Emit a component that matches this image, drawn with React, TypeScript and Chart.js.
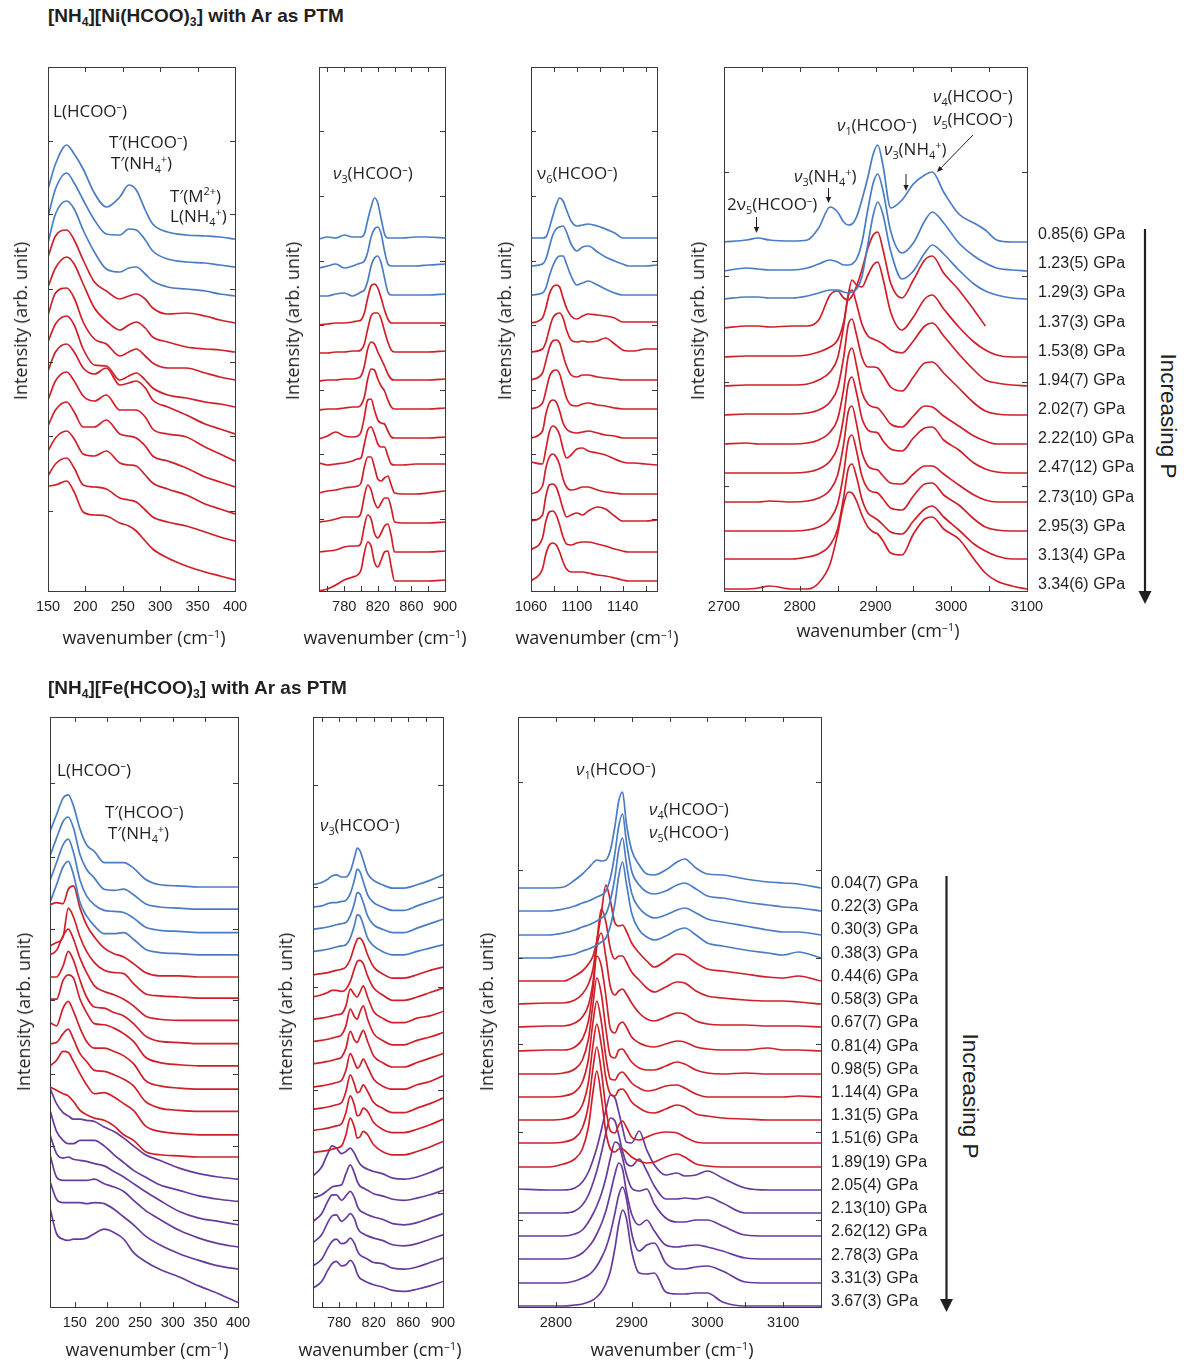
import React, { useEffect, useRef } from "react";
import { Chart, registerables } from "chart.js";

Chart.register(...registerables);

// ---------------- pressure labels & phases ----------------
const niPressures = ["0.85(6) GPa", "1.23(5) GPa", "1.29(3) GPa", "1.37(3) GPa", "1.53(8) GPa", "1.94(7) GPa", "2.02(7) GPa", "2.22(10) GPa", "2.47(12) GPa", "2.73(10) GPa", "2.95(3) GPa", "3.13(4) GPa", "3.34(6) GPa"];
const fePressures = ["0.04(7) GPa", "0.22(3) GPa", "0.30(3) GPa", "0.38(3) GPa", "0.44(6) GPa", "0.58(3) GPa", "0.67(7) GPa", "0.81(4) GPa", "0.98(5) GPa", "1.14(4) GPa", "1.31(5) GPa", "1.51(6) GPa", "1.89(19) GPa", "2.05(4) GPa", "2.13(10) GPa", "2.62(12) GPa", "2.78(3) GPa", "3.31(3) GPa", "3.67(3) GPa"];
const niPhase = [0, 0, 0, 1, 1, 1, 1, 1, 1, 1, 1, 1, 1];
const fePhase = [0, 0, 0, 0, 1, 1, 1, 1, 1, 1, 1, 1, 1, 2, 2, 2, 2, 2, 2];

// ---------------- [NH4][Ni(HCOO)3] : lattice region ----------------
const niLatX = [150, 160, 175, 185, 197, 212, 228, 246, 258, 268, 280, 290, 310, 335, 360, 380, 400];
const niLatBase = [352, 324, 295, 268, 239, 211, 184, 157, 130, 104, 77, 50, 11];
const niLatY = [
  [50, 75, 94, 85, 70, 46, 32, 42, 54, 49, 29, 15, 7, 4, 3, 2, 0],
  [50, 78, 94, 84, 67, 47, 33, 32, 38, 37, 27, 16, 8, 5, 4, 2, 0],
  [53, 82, 95, 87, 66, 44, 27, 24, 28, 29, 22, 15, 9, 7, 5, 2, 0],
  [66, 87, 93, 83, 63, 41, 32, 24, 27, 29, 24, 15, 9, 10, 7, 3, 0],
  [65, 84, 95, 88, 68, 44, 31, 22, 27, 30, 24, 15, 10, 5, 3, 2, 0],
  [65, 87, 92, 82, 58, 41, 36, 24, 28, 31, 24, 17, 12, 12, 7, 3, 0],
  [65, 83, 91, 82, 58, 42, 41, 27, 31, 34, 27, 19, 12, 9, 5, 3, 0],
  [63, 82, 90, 82, 66, 60, 66, 49, 51, 53, 46, 34, 27, 19, 10, 5, 0],
  [61, 80, 89, 80, 65, 60, 66, 51, 51, 51, 44, 32, 27, 24, 14, 7, 0],
  [61, 77, 85, 75, 60, 60, 67, 53, 51, 49, 41, 31, 26, 19, 10, 5, 0],
  [63, 76, 83, 75, 60, 58, 63, 51, 49, 48, 39, 31, 25, 19, 10, 5, 0],
  [65, 77, 83, 73, 56, 54, 52, 43, 41, 39, 31, 24, 19, 15, 9, 4, 0],
  [94, 95, 99, 88, 68, 65, 64, 57, 54, 49, 39, 31, 22, 14, 8, 4, 0],
];

// ---------------- Ni : nu3 region ----------------
const niV3X = [750, 760, 770, 780, 790, 796, 800, 804, 808, 812, 816, 820, 824, 828, 832, 836, 840, 850, 865, 880, 900];
const niV3Base = [353, 325, 296, 268, 239, 211, 182, 153, 126, 97, 68, 39, 10];
const niV3Y = [
  [-1, 1, 0, 3, 1, 1, 1, 4, 18, 31, 40, 35, 19, 4, 0, 0, 0, 0, 1, 1, 0],
  [-2, 0, 2, -2, 0, 2, 3, 5, 14, 29, 37, 39, 32, 15, 2, 0, 0, 0, 0, 1, 2],
  [-1, -1, 1, 2, -1, 1, 3, 5, 14, 29, 37, 39, 32, 17, 3, 0, 0, 0, 0, 0, 1],
  [-2, -1, 0, 0, 1, 2, 3, 10, 25, 37, 39, 35, 25, 13, 4, 0, 0, 0, 0, 0, 0],
  [-1, -1, 0, 0, 1, 1, 2, 8, 23, 36, 39, 39, 33, 21, 10, 2, 0, 0, 0, 0, 1],
  [-1, 0, 0, 1, 1, 2, 4, 14, 31, 38, 36, 28, 21, 14, 6, 1, 0, 0, 0, 0, 1],
  [-1, 0, 0, 1, 2, 2, 4, 12, 30, 40, 39, 30, 23, 18, 9, 2, 0, 0, 0, 0, 1],
  [-1, 2, 6, 2, 1, 2, 6, 21, 38, 39, 28, 18, 15, 14, 7, 1, 0, 0, 0, 0, 1],
  [2, 0, 1, 2, 4, 6, 7, 21, 35, 38, 31, 21, 18, 18, 9, 1, 0, 0, 1, 1, 1],
  [1, 3, 4, 6, 7, 8, 11, 27, 37, 37, 27, 15, 13, 16, 18, 9, 1, 0, 0, 1, 3],
  [1, 2, 4, 6, 6, 6, 10, 27, 38, 33, 21, 15, 20, 25, 25, 15, 1, 0, 0, 0, 1],
  [0, 1, 2, 5, 6, 6, 9, 26, 37, 33, 19, 14, 19, 26, 28, 16, 0, 0, 0, 0, 1],
  [-10, -8, -4, 1, 4, 6, 11, 28, 39, 35, 19, 14, 21, 29, 30, 14, 0, 0, 0, 0, 1],
];

// ---------------- Ni : nu6 region ----------------
const niV6X = [1060, 1070, 1073, 1076, 1079, 1082, 1085, 1088, 1091, 1095, 1100, 1105, 1110, 1118, 1125, 1133, 1140, 1145, 1150, 1160, 1170];
const niV6Base = [353, 325, 296, 268, 239, 211, 182, 153, 126, 97, 68, 39, 10];
const niV6Y = [
  [0, 0, 1, 10, 22, 33, 40, 37, 28, 17, 12, 13, 14, 12, 9, 5, 0, 0, 0, 0, 0],
  [0, 2, 7, 19, 31, 37, 39, 40, 34, 22, 15, 19, 20, 14, 9, 5, 2, 0, 0, 0, 1],
  [0, 2, 7, 19, 29, 36, 39, 39, 31, 19, 10, 12, 14, 10, 6, 2, 0, 0, 0, 0, 0],
  [0, 5, 15, 29, 36, 38, 36, 25, 15, 7, 4, 7, 9, 8, 7, 5, 1, 1, 1, 1, 1],
  [0, 3, 10, 23, 34, 38, 39, 34, 22, 12, 10, 11, 10, 11, 14, 8, 2, 1, 1, 3, 3],
  [0, 7, 19, 32, 39, 40, 37, 25, 14, 5, 3, 5, 5, 3, 2, 1, 0, 0, 0, 0, 0],
  [0, 6, 18, 32, 38, 39, 35, 23, 11, 4, 3, 5, 6, 4, 3, 1, 0, 0, 0, 0, 0],
  [0, 7, 24, 35, 38, 36, 27, 15, 9, 6, 5, 6, 7, 5, 3, 2, 0, 0, 0, 0, 0],
  [3, 1, 16, 33, 39, 37, 30, 16, 7, 10, 16, 17, 14, 12, 10, 6, 3, 2, 2, 1, 0],
  [0, 8, 26, 37, 40, 37, 29, 15, 7, 4, 5, 7, 7, 4, 2, 1, 0, 0, 0, 0, 0],
  [2, 8, 27, 38, 39, 36, 26, 14, 6, 8, 10, 8, 12, 16, 14, 7, 2, 2, 2, 2, 3],
  [2, 14, 31, 40, 41, 37, 27, 15, 8, 7, 9, 10, 10, 8, 6, 3, 1, 0, 0, 0, 0],
  [0, 12, 27, 36, 38, 36, 29, 19, 12, 9, 9, 9, 8, 6, 5, 3, 1, 0, 0, 0, 0],
];

// ---------------- Ni : C-H / N-H stretching region ----------------
const niChX = [2700, 2730, 2745, 2760, 2790, 2810, 2825, 2840, 2850, 2858, 2864, 2869, 2875, 2882, 2890, 2897, 2903, 2910, 2920, 2935, 2950, 2965, 2975, 2990, 3010, 3030, 3045, 3060, 3080, 3100];
const niChBase = [349, 320, 292, 263, 234, 205, 176, 147, 118, 89, 60, 32, 2];
const niChY: (number | null)[][] = [
  [0, 2, 4, 2, 1, 2, 14, 35, 30, 20, 17, 18, 25, 42, 65, 88, 97, 76, 34, 42, 58, 67, 70, 50, 28, 19, 12, 2, 0, 0],
  [0, 3, 2, 1, 1, 3, 7, 11, 9, 6, 6, 7, 12, 28, 62, 88, 97, 80, 40, 18, 28, 50, 59, 48, 28, 15, 8, 3, 1, 0],
  [0, 2, 2, 1, 1, 3, 6, 9, 9, 7, 6, 7, 10, 22, 55, 84, 97, 84, 48, 20, 28, 46, 54, 45, 29, 15, 8, 4, 1, 0],
  [0, 2, 2, 1, 2, 2, 8, 33, 37, 30, 28, 32, 42, 58, 80, 93, 96, 78, 45, 30, 48, 68, 72, 55, 38, 18, 2, null, null, null],
  [0, 1, 1, 1, 1, 2, 5, 10, 17, 35, 62, 77, 72, 70, 82, 92, 95, 78, 45, 27, 40, 58, 62, 48, 30, 15, 7, 2, 0, 0],
  [0, 1, 1, 1, 1, 2, 6, 14, 28, 60, 90, 96, 82, 62, 50, 47, 45, 42, 36, 33, 45, 60, 63, 50, 32, 16, 6, 3, 1, 0],
  [0, 1, 1, 1, 1, 2, 5, 13, 27, 58, 90, 96, 80, 58, 48, 48, 47, 40, 28, 24, 38, 52, 53, 42, 27, 12, 4, 1, 0, 0],
  [0, 1, 0, 0, 0, 1, 4, 12, 25, 55, 88, 96, 78, 52, 40, 37, 36, 30, 20, 17, 28, 38, 37, 28, 18, 8, 3, 0, 0, 0],
  [0, 0, 0, 0, 0, 1, 4, 12, 26, 56, 89, 96, 80, 55, 43, 41, 40, 32, 24, 22, 35, 45, 46, 33, 23, 10, 4, 1, 0, 0],
  [0, 0, 0, 1, 0, 1, 4, 12, 27, 58, 90, 96, 78, 50, 36, 33, 32, 26, 19, 18, 28, 36, 36, 28, 17, 7, 2, 0, 0, 0],
  [0, 0, 0, 0, 0, 1, 4, 12, 27, 58, 90, 96, 80, 55, 42, 39, 38, 32, 23, 21, 35, 47, 48, 36, 26, 12, 4, 1, 0, 0],
  [0, 0, 0, 0, 0, 2, 5, 14, 30, 62, 90, 95, 82, 60, 46, 42, 39, 34, 27, 25, 38, 50, 53, 42, 29, 15, 8, 3, 0, 0],
  [0, 0, 1, 3, 0, 0, 6, 25, 55, 85, 97, 96, 88, 74, 62, 57, 55, 48, 36, 34, 55, 70, 72, 60, 50, 30, 16, 8, 3, 0],
];

// ---------------- [NH4][Fe(HCOO)3] : lattice region ----------------
const feLatX = [112, 122, 132, 140, 148, 158, 168, 180, 195, 210, 225, 240, 258, 280, 310, 340, 370, 400];
const feLatBase = [378, 358, 337, 317, 297, 278, 258, 237, 217, 196, 176, 155, 135, 115, 95, 74, 54, 34, 4];
const feLatY = [
  [50, 65, 80, 83, 73, 52, 38, 32, 22, 22, 22, 17, 7, 2, 1, 0, 0, 0],
  [48, 64, 79, 83, 73, 49, 36, 28, 18, 17, 18, 13, 5, 2, 1, 0, 0, 0],
  [47, 63, 79, 84, 72, 47, 33, 25, 20, 19, 18, 13, 5, 2, 1, 0, 0, 0],
  [47, 63, 79, 84, 72, 47, 35, 26, 19, 19, 20, 14, 5, 2, 1, 0, 0, 0],
  [65, 67, 66, 79, 82, 62, 47, 36, 26, 21, 18, 12, 4, 1, 1, 0, 0, 0],
  [47, 50, 55, 81, 73, 55, 42, 32, 25, 23, 22, 13, 4, 2, 1, 0, 0, 0],
  [59, 63, 76, 82, 73, 56, 43, 31, 26, 23, 19, 13, 4, 1, 0, 0, 0, 0],
  [60, 60, 70, 83, 75, 57, 42, 33, 32, 28, 25, 18, 7, 2, 1, 0, 0, 0],
  [60, 60, 77, 82, 79, 60, 48, 38, 37, 34, 29, 22, 8, 3, 1, 0, 0, 0],
  [60, 57, 73, 79, 70, 55, 43, 37, 37, 34, 30, 23, 8, 3, 1, 0, 0, 0],
  [61, 62, 70, 74, 65, 52, 45, 37, 36, 33, 29, 23, 9, 3, 1, 0, 0, 0],
  [62, 67, 75, 74, 66, 55, 45, 37, 38, 34, 28, 22, 8, 3, 1, 0, 0, 0],
  [63, 60, 57, 55, 50, 42, 38, 35, 33, 28, 20, 15, 5, 2, 1, 0, 0, 0],
  [82, 68, 60, 57, 54, 54, 53, 52, 47, 43, 37, 30, 22, 17, 10, 5, 2, 0],
  [82, 63, 55, 52, 52, 55, 55, 55, 50, 42, 35, 28, 22, 15, 10, 5, 2, 0],
  [81, 64, 60, 61, 59, 58, 57, 55, 53, 48, 43, 37, 30, 22, 12, 6, 3, 0],
  [83, 63, 60, 60, 60, 60, 60, 61, 57, 54, 50, 42, 33, 25, 15, 8, 3, 0],
  [79, 63, 60, 60, 60, 60, 59, 60, 59, 54, 47, 40, 30, 22, 14, 8, 3, 0],
  [85, 62, 57, 56, 57, 57, 58, 62, 66, 63, 57, 45, 37, 30, 23, 15, 8, 0],
];

// ---------------- Fe : nu3 region ----------------
const feV3X = [750, 760, 767, 772, 777, 783, 788, 793, 798, 801, 804, 808, 813, 820, 830, 842, 855, 870, 885, 900];
const feV3Base = [380, 360, 340, 320, 299, 279, 259, 239, 219, 198, 178, 159, 139, 118, 98, 77, 58, 37, 17];
const feV3Y = [
  [0, 2, 5, 8, 9, 7, 7, 12, 25, 33, 31, 22, 10, 4, 0, -3, -3, 0, 4, 9],
  [0, 1, 3, 4, 4, 5, 6, 12, 25, 34, 32, 23, 11, 4, 0, -3, -3, 1, 5, 9],
  [0, 1, 2, 3, 4, 5, 6, 12, 24, 33, 32, 24, 12, 4, 0, -3, -3, 1, 5, 9],
  [0, 1, 2, 3, 4, 5, 6, 12, 24, 33, 32, 24, 12, 5, 0, -3, -3, 0, 3, 6],
  [0, 1, 2, 3, 4, 5, 7, 14, 26, 32, 33, 29, 18, 7, 1, -3, -3, 0, 4, 7],
  [0, 2, 4, 6, 6, 5, 7, 14, 26, 32, 33, 30, 19, 8, 2, -3, -3, 0, 4, 8],
  [0, 1, 2, 3, 4, 5, 12, 27, 22, 20, 24, 30, 20, 7, 1, -3, -3, 1, 3, 7],
  [0, 1, 2, 3, 4, 6, 14, 29, 22, 20, 26, 32, 20, 7, 1, -3, -3, 1, 4, 8],
  [0, 1, 2, 3, 4, 6, 14, 29, 21, 19, 24, 30, 20, 7, 1, -3, -3, 1, 5, 9],
  [0, 1, 2, 3, 4, 6, 15, 30, 22, 17, 19, 25, 18, 7, 1, -2, -2, 2, 5, 10],
  [0, 1, 2, 3, 4, 6, 16, 31, 22, 15, 16, 22, 16, 6, 1, -3, -3, 1, 5, 10],
  [0, 1, 2, 3, 4, 6, 16, 31, 22, 13, 14, 20, 17, 7, 1, -2, -2, 1, 5, 10],
  [0, 1, 2, 3, 4, 6, 16, 31, 22, 13, 14, 19, 16, 7, 1, -2, -2, 1, 5, 10],
  [0, 8, 20, 27, 25, 20, 22, 25, 20, 15, 11, 8, 6, 4, 2, -2, -3, -1, 3, 8],
  [0, 3, 7, 10, 11, 12, 22, 30, 22, 15, 11, 9, 7, 4, 2, -1, -2, 0, 3, 7],
  [0, 7, 18, 24, 24, 19, 23, 27, 21, 14, 10, 8, 6, 4, 2, -2, -3, -1, 3, 7],
  [0, 7, 18, 24, 25, 19, 22, 26, 21, 14, 10, 8, 6, 4, 2, -2, -3, -1, 3, 7],
  [0, 6, 16, 22, 24, 20, 21, 25, 20, 14, 10, 8, 6, 3, 2, -2, -3, -1, 3, 7],
  [0, 6, 16, 22, 24, 20, 21, 25, 20, 13, 9, 7, 5, 3, 1, -2, -3, -1, 2, 6],
];

// ---------------- Fe : C-H stretching region ----------------
const feChX = [2750, 2790, 2810, 2825, 2835, 2843, 2849, 2854, 2860, 2866, 2872, 2878, 2883, 2888, 2893, 2900, 2910, 2920, 2930, 2945, 2960, 2970, 2985, 3000, 3020, 3050, 3080, 3100, 3120, 3150];
const feChBase = [419, 396, 372, 349, 326, 303, 280, 256, 233, 210, 187, 164, 140, 117, 94, 71, 48, 24, 1];
const feChY = [
  [0, 0, 1, 8, 14, 20, 25, 28, 27, 28, 38, 62, 87, 96, 65, 38, 23, 14, 13, 18, 26, 29, 20, 14, 13, 9, 6, 5, 4, 0],
  [0, 0, 2, 5, 8, 10, 12, 14, 16, 20, 33, 58, 85, 97, 70, 40, 26, 19, 17, 20, 26, 28, 22, 15, 13, 9, 6, 4, 3, 0],
  [0, 0, 2, 5, 8, 10, 12, 14, 17, 21, 35, 58, 85, 97, 72, 42, 27, 20, 17, 20, 25, 27, 22, 16, 13, 9, 5, 3, 3, 0],
  [0, 0, 2, 4, 7, 9, 11, 13, 16, 20, 32, 55, 82, 96, 75, 45, 28, 21, 18, 22, 28, 30, 23, 15, 12, 8, 5, 3, 6, 0],
  [0, 0, 0, 5, 10, 17, 25, 40, 68, 96, 80, 58, 55, 56, 50, 38, 28, 20, 14, 20, 27, 26, 18, 12, 10, 7, 4, 3, 5, 0],
  [0, 1, 1, 4, 10, 20, 35, 62, 95, 82, 55, 45, 48, 48, 42, 32, 24, 16, 12, 17, 22, 21, 13, 8, 6, 4, 3, 3, 2, 0],
  [0, 1, 1, 4, 10, 22, 45, 80, 94, 70, 40, 32, 36, 38, 33, 24, 14, 8, 6, 10, 14, 13, 6, 3, 2, 2, 1, 1, 1, 0],
  [0, 1, 1, 4, 12, 30, 62, 95, 85, 55, 22, 18, 26, 29, 24, 14, 8, 5, 4, 7, 10, 9, 4, 2, 1, 1, 3, 1, 1, 0],
  [0, 0, 1, 5, 14, 35, 70, 96, 80, 45, 18, 16, 24, 25, 20, 12, 6, 4, 4, 8, 12, 10, 4, 1, 0, 1, 0, 0, 0, 0],
  [0, 0, 1, 5, 15, 38, 75, 96, 75, 40, 18, 17, 23, 25, 21, 14, 9, 6, 7, 11, 12, 9, 3, 0, 0, 0, 0, 0, 1, 0],
  [0, 0, 1, 5, 15, 38, 75, 96, 75, 42, 26, 24, 30, 31, 27, 18, 12, 8, 7, 11, 15, 13, 6, 4, 2, 1, 0, 0, 0, 0],
  [0, 0, 1, 5, 15, 38, 75, 96, 72, 35, 12, 10, 18, 22, 16, 6, 3, 6, 9, 11, 10, 6, 1, 0, 0, 0, 0, 0, 0, 0],
  [0, 0, 3, 8, 18, 40, 75, 96, 70, 35, 18, 15, 18, 18, 15, 10, 6, 4, 5, 10, 13, 10, 3, 1, 0, 0, 0, 0, 0, 0],
  [1, 0, 0, 2, 8, 18, 30, 42, 60, 80, 95, 92, 78, 62, 48, 47, 59, 40, 25, 15, 17, 14, 15, 19, 12, 2, 0, 0, 0, 0],
  [0, 0, 0, 2, 8, 18, 30, 42, 60, 80, 95, 92, 78, 62, 50, 47, 54, 42, 27, 14, 14, 15, 14, 16, 10, 0, 0, 0, 0, 0],
  [0, 0, 0, 2, 6, 14, 22, 30, 42, 58, 78, 94, 92, 78, 62, 48, 45, 47, 32, 18, 14, 14, 16, 16, 10, 1, 0, 0, 0, 0],
  [0, 0, 0, 2, 6, 12, 18, 25, 35, 48, 66, 85, 96, 90, 68, 45, 34, 39, 28, 14, 12, 13, 14, 12, 8, 1, 0, 0, 0, 0],
  [0, 0, 0, 2, 5, 8, 12, 17, 25, 35, 50, 70, 88, 96, 85, 50, 32, 38, 40, 20, 14, 14, 16, 17, 12, 1, 0, 0, 0, 0],
  [0, 0, 0, 1, 2, 4, 6, 9, 14, 22, 35, 58, 82, 96, 88, 55, 33, 32, 33, 14, 12, 12, 13, 13, 4, 0, 0, 0, 0, 0],
];

// ---------------- axis ticks ----------------
const latTicks = [150, 200, 250, 300, 350, 400];
const v3Ticks = [760, 780, 800, 820, 840, 860, 880, 900];
const v3Labels = [780, 820, 860, 900];
const v6Ticks = [1060, 1080, 1100, 1120, 1140, 1160];
const v6Labels = [1060, 1100, 1140];
const niChTicks = [2700, 2750, 2800, 2850, 2900, 2950, 3000, 3050, 3100];
const niChLabels = [2700, 2800, 2900, 3000, 3100];
const feChTicks = [2800, 2850, 2900, 2950, 3000, 3050, 3100];
const feChLabels = [2800, 2900, 3000, 3100];

// ---------------- styling ----------------
const PHASE_COLORS = ["#4a7cc4", "#cf1f29", "#673a9e"];
const INK = "#231f20";
const SANS = '"Open Sans", "Noto Sans", sans-serif';
const ARIAL = '"Liberation Sans", Arial, sans-serif';
const M = 28;
const XH = 34;

type PanelSpec = {
  left: number; top: number; width: number; height: number;
  xMin: number; xMax: number; yMax: number;
  xTicks: number[]; xLabels: number[]; yTicks: number[];
  grid: number[]; base: number[]; prof: (number | null)[][]; phase: number[];
};

function SpectraPanel({ spec }: { spec: PanelSpec }) {
  const ref = useRef<HTMLCanvasElement | null>(null);
  useEffect(() => {
    const canvas = ref.current;
    if (!canvas) return;
    const datasets = spec.prof.map((row, i) => ({
      data: spec.grid.map((x, j) => ({ x, y: row[j] === null ? null : spec.base[i] + (row[j] as number) })),
      borderColor: PHASE_COLORS[spec.phase[i]],
      borderWidth: 1.7,
      pointRadius: 0,
      pointHoverRadius: 0,
      fill: false,
      cubicInterpolationMode: "monotone" as const,
      spanGaps: false,
    }));
    const framePlugin = {
      id: "frameTicks",
      afterDraw(chart: any) {
        const { ctx, chartArea: a, scales } = chart;
        ctx.save();
        ctx.strokeStyle = "#3a3a3a";
        ctx.lineWidth = 1;
        ctx.strokeRect(Math.round(a.left) + 0.5, Math.round(a.top) + 0.5, Math.round(a.right - a.left), Math.round(a.bottom - a.top));
        ctx.beginPath();
        for (const t of scales.x.ticks) {
          const px = Math.round(scales.x.getPixelForValue(t.value)) + 0.5;
          if (px < a.left + 2 || px > a.right - 2) continue;
          ctx.moveTo(px, a.bottom); ctx.lineTo(px, a.bottom - 5);
          ctx.moveTo(px, a.top); ctx.lineTo(px, a.top + 5);
        }
        for (const v of spec.yTicks) {
          const py = Math.round(scales.y.getPixelForValue(v)) + 0.5;
          ctx.moveTo(a.left, py); ctx.lineTo(a.left + 5, py);
          ctx.moveTo(a.right, py); ctx.lineTo(a.right - 5, py);
        }
        ctx.stroke();
        ctx.restore();
      },
    };
    const chart = new Chart(canvas, {
      type: "line",
      data: { datasets: datasets as any },
      options: {
        animation: false,
        responsive: false,
        devicePixelRatio: 1,
        events: [],
        layout: { padding: { left: 0, right: M, top: M, bottom: 0 } },
        plugins: { legend: { display: false }, tooltip: { enabled: false } },
        scales: {
          x: {
            type: "linear",
            min: spec.xMin,
            max: spec.xMax,
            afterBuildTicks: (s: any) => { s.ticks = spec.xTicks.map((v) => ({ value: v })); },
            afterFit: (s: any) => { s.height = XH; },
            grid: { display: false, drawTicks: false },
            border: { display: false },
            ticks: {
              autoSkip: false,
              maxRotation: 0,
              padding: 7,
              color: INK,
              font: { family: ARIAL, size: 14.5 },
              callback: (v: any) => (spec.xLabels.includes(Number(v)) ? String(v) : ""),
            },
          },
          y: {
            type: "linear",
            min: 0,
            max: spec.yMax,
            afterFit: (s: any) => { s.width = M; },
            grid: { display: false, drawTicks: false },
            border: { display: false },
            ticks: { display: false },
          },
        },
      },
      plugins: [framePlugin],
    });
    return () => chart.destroy();
  }, [spec]);
  const w = spec.width + 2 * M;
  const h = spec.height + M + XH;
  return (
    <canvas
      ref={ref}
      width={w}
      height={h}
      style={{ position: "absolute", left: spec.left - M, top: spec.top - M, width: w, height: h }}
    />
  );
}

const panels: PanelSpec[] = [
  { left: 48, top: 67, width: 187, height: 524, xMin: 150, xMax: 400, yMax: 524, xTicks: latTicks, xLabels: latTicks, yTicks: [80, 155, 229, 302, 377, 450], grid: niLatX, base: niLatBase, prof: niLatY, phase: niPhase },
  { left: 319, top: 67, width: 126, height: 524, xMin: 750, xMax: 900, yMax: 524, xTicks: v3Ticks, xLabels: v3Labels, yTicks: [72, 137, 201, 266, 330, 395, 460], grid: niV3X, base: niV3Base, prof: niV3Y, phase: niPhase },
  { left: 531, top: 67, width: 126, height: 524, xMin: 1060, xMax: 1170, yMax: 524, xTicks: v6Ticks, xLabels: v6Labels, yTicks: [72, 137, 201, 266, 330, 395, 460], grid: niV6X, base: niV6Base, prof: niV6Y, phase: niPhase },
  { left: 724, top: 67, width: 303, height: 524, xMin: 2700, xMax: 3100, yMax: 524, xTicks: niChTicks, xLabels: niChLabels, yTicks: [105, 209, 315, 419], grid: niChX, base: niChBase, prof: niChY, phase: niPhase },
  { left: 50, top: 717, width: 188, height: 590, xMin: 112, xMax: 400, yMax: 531, xTicks: latTicks, xLabels: latTicks, yTicks: [78, 145, 210, 276, 340, 405, 472], grid: feLatX, base: feLatBase, prof: feLatY, phase: fePhase },
  { left: 313, top: 717, width: 130, height: 590, xMin: 750, xMax: 900, yMax: 531, xTicks: v3Ticks, xLabels: v3Labels, yTicks: [103, 195, 288, 378, 470], grid: feV3X, base: feV3Base, prof: feV3Y, phase: fePhase },
  { left: 518, top: 717, width: 303, height: 590, xMin: 2750, xMax: 3150, yMax: 590, xTicks: feChTicks, xLabels: feChLabels, yTicks: [87, 175, 263, 349, 437, 525], grid: feChX, base: feChBase, prof: feChY, phase: fePhase },
];

// ---------------- text helpers ----------------
const Sub = ({ t }: { t: string }) => <span style={{ fontSize: "0.64em", verticalAlign: "-0.32em" }}>{t}</span>;
const Sup = ({ t }: { t: string }) => <span style={{ fontSize: "0.64em", verticalAlign: "0.6em" }}>{t}</span>;

function Txt({ x, y, size = 17, font = SANS, weight = 400, children }: any) {
  return (
    <div style={{ position: "absolute", left: x, top: y, transform: "translateY(-50%)", fontSize: size, fontFamily: font, fontWeight: weight, lineHeight: 1, whiteSpace: "nowrap", color: INK }}>
      {children}
    </div>
  );
}

function RotTxt({ cx, cy, deg, size = 18, font = SANS, children }: any) {
  return (
    <div style={{ position: "absolute", left: cx, top: cy, transform: `translate(-50%, -50%) rotate(${deg}deg)`, fontSize: size, fontFamily: font, lineHeight: 1, whiteSpace: "nowrap", color: INK }}>
      {children}
    </div>
  );
}

function CenterTxt({ cx, cy, size = 18, children }: any) {
  return (
    <div style={{ position: "absolute", left: cx, top: cy, transform: "translate(-50%, -50%)", fontSize: size, fontFamily: SANS, lineHeight: 1, whiteSpace: "nowrap", color: INK }}>
      {children}
    </div>
  );
}

const HCOO = () => <>(HCOO<Sup t="–" />)</>;
const NH4 = () => <>(NH<Sub t="4" /><Sup t="+" />)</>;
const Nu = ({ n, italic = true }: { n: string; italic?: boolean }) => (
  <>{italic ? <i>ν</i> : "ν"}<Sub t={n} /></>
);

const wn = <>wavenumber (cm<Sup t="–1" />)</>;

function SmallArrow({ x1, y1, x2, y2 }: { x1: number; y1: number; x2: number; y2: number }) {
  const ang = Math.atan2(y2 - y1, x2 - x1);
  const L = 6, W = 2.6;
  const bx = x2 - L * Math.cos(ang), by = y2 - L * Math.sin(ang);
  const px = -Math.sin(ang) * W, py = Math.cos(ang) * W;
  return (
    <g>
      <line x1={x1} y1={y1} x2={bx} y2={by} stroke={INK} strokeWidth={1} />
      <polygon points={`${x2},${y2} ${bx + px},${by + py} ${bx - px},${by - py}`} fill={INK} />
    </g>
  );
}

function BigArrow({ x, y1, y2 }: { x: number; y1: number; y2: number }) {
  return (
    <g>
      <line x1={x} y1={y1} x2={x} y2={y2 - 12} stroke={INK} strokeWidth={2.2} />
      <polygon points={`${x - 6.5},${y2 - 13} ${x + 6.5},${y2 - 13} ${x},${y2}`} fill={INK} />
    </g>
  );
}

const titleStyle: React.CSSProperties = { position: "absolute", left: 48, fontFamily: ARIAL, fontWeight: 700, fontSize: 19, lineHeight: 1, color: INK, whiteSpace: "nowrap" };

export default function App() {
  return (
    <div style={{ position: "absolute", left: 0, top: 0, width: 1184, height: 1360, background: "#fff", overflow: "hidden" }}>
      {panels.map((p, i) => <SpectraPanel key={i} spec={p} />)}

      {/* titles */}
      <div style={{ ...titleStyle, top: 6 }}>
        [NH<Sub t="4" />][Ni(HCOO)<Sub t="3" />] with Ar as PTM
      </div>
      <div style={{ ...titleStyle, top: 678 }}>
        [NH<Sub t="4" />][Fe(HCOO)<Sub t="3" />] with Ar as PTM
      </div>

      {/* top annotations */}
      <Txt x={53} y={110}>L<HCOO /></Txt>
      <Txt x={109} y={141}>T′<HCOO /></Txt>
      <Txt x={111} y={164}>T′<NH4 /></Txt>
      <Txt x={170} y={195}>T′(M<Sup t="2+" />)</Txt>
      <Txt x={170} y={217}>L<NH4 /></Txt>
      <Txt x={333} y={174}><Nu n="3" /><HCOO /></Txt>
      <Txt x={537} y={174}><Nu n="6" italic={false} /><HCOO /></Txt>
      <Txt x={727} y={205}>2<Nu n="5" italic={false} /><HCOO /></Txt>
      <Txt x={794} y={177}><Nu n="3" /><NH4 /></Txt>
      <Txt x={837} y={126}><Nu n="1" /><HCOO /></Txt>
      <Txt x={884} y={150}><Nu n="3" /><NH4 /></Txt>
      <Txt x={933} y={97}><Nu n="4" /><HCOO /></Txt>
      <Txt x={933} y={120}><Nu n="5" /><HCOO /></Txt>

      {/* bottom annotations */}
      <Txt x={57} y={769}>L<HCOO /></Txt>
      <Txt x={105} y={811}>T′<HCOO /></Txt>
      <Txt x={108} y={834}>T′<NH4 /></Txt>
      <Txt x={320} y={826}><Nu n="3" /><HCOO /></Txt>
      <Txt x={576} y={770}><Nu n="1" /><HCOO /></Txt>
      <Txt x={649} y={810}><Nu n="4" /><HCOO /></Txt>
      <Txt x={649} y={833}><Nu n="5" /><HCOO /></Txt>

      {/* axis titles */}
      <CenterTxt cx={144} cy={637}>{wn}</CenterTxt>
      <CenterTxt cx={385} cy={637}>{wn}</CenterTxt>
      <CenterTxt cx={597} cy={637}>{wn}</CenterTxt>
      <CenterTxt cx={878} cy={630}>{wn}</CenterTxt>
      <CenterTxt cx={147} cy={1349}>{wn}</CenterTxt>
      <CenterTxt cx={380} cy={1349}>{wn}</CenterTxt>
      <CenterTxt cx={672} cy={1349}>{wn}</CenterTxt>
      <RotTxt cx={20} cy={321} deg={-90}>Intensity (arb. unit)</RotTxt>
      <RotTxt cx={292} cy={321} deg={-90}>Intensity (arb. unit)</RotTxt>
      <RotTxt cx={504} cy={321} deg={-90}>Intensity (arb. unit)</RotTxt>
      <RotTxt cx={697} cy={321} deg={-90}>Intensity (arb. unit)</RotTxt>
      <RotTxt cx={23} cy={1012} deg={-90}>Intensity (arb. unit)</RotTxt>
      <RotTxt cx={285} cy={1012} deg={-90}>Intensity (arb. unit)</RotTxt>
      <RotTxt cx={486} cy={1012} deg={-90}>Intensity (arb. unit)</RotTxt>

      {/* pressure legends */}
      {niPressures.map((t, i) => (
        <Txt key={"n" + i} x={1038} y={234 + i * 29.17} size={16} font={ARIAL}>{t}</Txt>
      ))}
      {fePressures.map((t, i) => (
        <Txt key={"f" + i} x={831} y={883 + i * 23.22} size={16} font={ARIAL}>{t}</Txt>
      ))}
      <RotTxt cx={1168} cy={416} deg={90} size={22.5} font={ARIAL}>Increasing P</RotTxt>
      <RotTxt cx={970} cy={1096} deg={90} size={22.5} font={ARIAL}>Increasing P</RotTxt>

      <svg width={1184} height={1360} style={{ position: "absolute", left: 0, top: 0, pointerEvents: "none" }}>
        <BigArrow x={1145} y1={229} y2={604} />
        <BigArrow x={946.5} y1={876} y2={1312} />
        <SmallArrow x1={756.5} y1={217} x2={756.5} y2={233} />
        <SmallArrow x1={828.5} y1={188} x2={828.5} y2={203} />
        <SmallArrow x1={906} y1={174} x2={906} y2={191} />
        <SmallArrow x1={973} y1={135} x2={937} y2={172} />
      </svg>
    </div>
  );
}
